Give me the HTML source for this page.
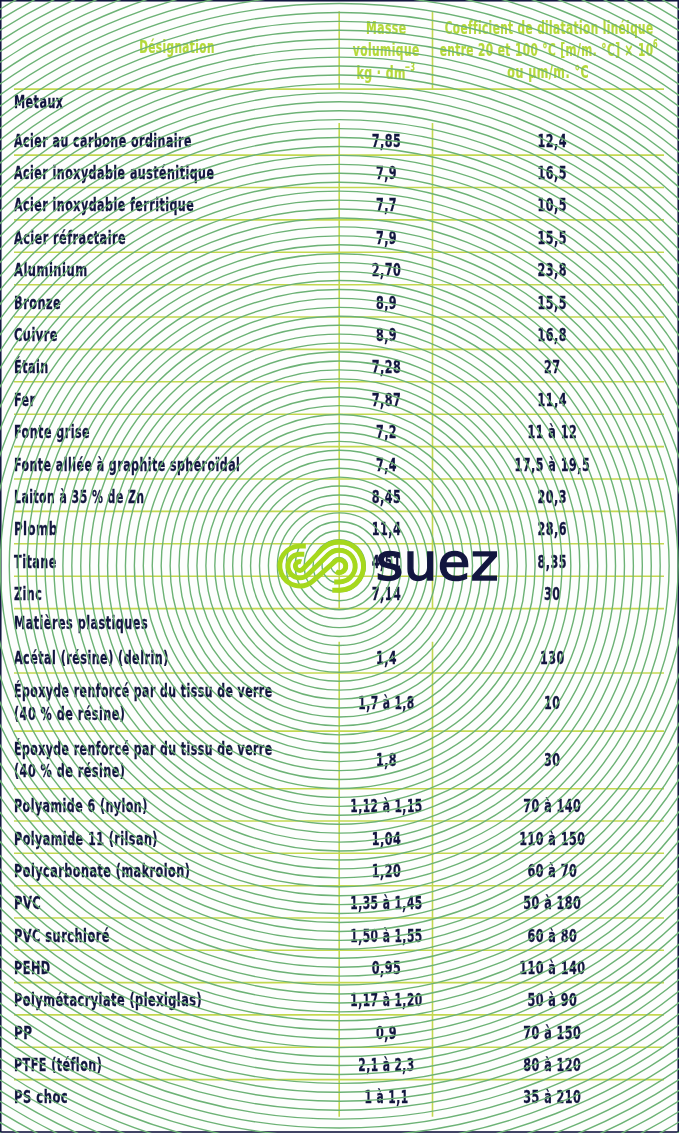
<!DOCTYPE html>
<html><head><meta charset="utf-8"><title>Masse volumique et coefficient de dilatation</title>
<style>
html,body{margin:0;padding:0;background:#fff;}
body{width:679px;height:1133px;overflow:hidden;position:relative;}
svg{position:absolute;left:0;top:0;display:block;}
text{font-family:"DejaVu Sans Condensed","DejaVu Sans","Liberation Sans",sans-serif;font-weight:bold;font-stretch:condensed;letter-spacing:0.7px;stroke-width:0.3px;}
</style></head><body>
<svg width="679" height="1133" viewBox="0 0 679 1133">
<rect x="0" y="0" width="679" height="1133" fill="#fdfefd"/>
<g stroke="#c3d84f" stroke-width="1.6" fill="none">
<line x1="14.0" y1="89.1" x2="664.0" y2="89.1"/>
<line x1="339.2" y1="11.3" x2="339.2" y2="89.1"/>
<line x1="432.5" y1="11.3" x2="432.5" y2="89.1"/>
<line x1="14.0" y1="155.1" x2="664.0" y2="155.1"/>
<line x1="14.0" y1="187.5" x2="664.0" y2="187.5"/>
<line x1="14.0" y1="219.9" x2="664.0" y2="219.9"/>
<line x1="14.0" y1="252.3" x2="664.0" y2="252.3"/>
<line x1="14.0" y1="284.7" x2="664.0" y2="284.7"/>
<line x1="14.0" y1="317.0" x2="664.0" y2="317.0"/>
<line x1="14.0" y1="349.4" x2="664.0" y2="349.4"/>
<line x1="14.0" y1="381.8" x2="664.0" y2="381.8"/>
<line x1="14.0" y1="414.2" x2="664.0" y2="414.2"/>
<line x1="14.0" y1="446.6" x2="664.0" y2="446.6"/>
<line x1="14.0" y1="479.0" x2="664.0" y2="479.0"/>
<line x1="14.0" y1="511.4" x2="664.0" y2="511.4"/>
<line x1="14.0" y1="543.8" x2="664.0" y2="543.8"/>
<line x1="14.0" y1="576.2" x2="664.0" y2="576.2"/>
<line x1="14.0" y1="608.6" x2="664.0" y2="608.6"/>
<line x1="339.2" y1="123.1" x2="339.2" y2="608.6"/>
<line x1="432.5" y1="123.1" x2="432.5" y2="608.6"/>
<line x1="14.0" y1="673.0" x2="664.0" y2="673.0"/>
<line x1="14.0" y1="731.1" x2="664.0" y2="731.1"/>
<line x1="14.0" y1="788.7" x2="664.0" y2="788.7"/>
<line x1="14.0" y1="821.0" x2="664.0" y2="821.0"/>
<line x1="14.0" y1="853.3" x2="664.0" y2="853.3"/>
<line x1="14.0" y1="885.7" x2="664.0" y2="885.7"/>
<line x1="14.0" y1="918.0" x2="664.0" y2="918.0"/>
<line x1="14.0" y1="950.3" x2="664.0" y2="950.3"/>
<line x1="14.0" y1="982.6" x2="664.0" y2="982.6"/>
<line x1="14.0" y1="1014.9" x2="664.0" y2="1014.9"/>
<line x1="14.0" y1="1047.3" x2="664.0" y2="1047.3"/>
<line x1="14.0" y1="1079.6" x2="664.0" y2="1079.6"/>
<line x1="339.2" y1="641.7" x2="339.2" y2="1116.7"/>
<line x1="432.5" y1="641.7" x2="432.5" y2="1116.7"/>
</g>
<g>
<text x="177.0" y="53.3" text-anchor="middle" font-size="18.5" fill="#b5d93a" stroke="#b5d93a" textLength="75.7" lengthAdjust="spacingAndGlyphs" style="stroke-width:0.2px">Désignation</text>
<text x="386.2" y="33.6" text-anchor="middle" font-size="18.5" fill="#b5d93a" stroke="#b5d93a" textLength="40.5" lengthAdjust="spacingAndGlyphs" style="stroke-width:0.2px">Masse</text>
<text x="386.2" y="55.7" text-anchor="middle" font-size="18.5" fill="#b5d93a" stroke="#b5d93a" textLength="66.9" lengthAdjust="spacingAndGlyphs" style="stroke-width:0.2px">volumique</text>
<text x="381.2" y="79.2" text-anchor="middle" font-size="18.5" fill="#b5d93a" stroke="#b5d93a" textLength="49.5" lengthAdjust="spacingAndGlyphs" style="stroke-width:0.2px">kg · dm</text>
<text x="410.0" y="71.0" text-anchor="middle" font-size="12" fill="#b5d93a" stroke="#b5d93a" textLength="10.5" lengthAdjust="spacingAndGlyphs" style="stroke-width:0.2px">−3</text>
<text x="549.1" y="34.0" text-anchor="middle" font-size="18.5" fill="#b5d93a" stroke="#b5d93a" textLength="208.8" lengthAdjust="spacingAndGlyphs" style="stroke-width:0.2px">Coefficient de dilatation linéique</text>
<text x="546.6" y="56.0" text-anchor="middle" font-size="18.5" fill="#b5d93a" stroke="#b5d93a" textLength="213.8" lengthAdjust="spacingAndGlyphs" style="stroke-width:0.2px">entre 20 et 100 °C [m/m. °C] × 10</text>
<text x="655.6" y="47.5" text-anchor="middle" font-size="12" fill="#b5d93a" stroke="#b5d93a" textLength="5.0" lengthAdjust="spacingAndGlyphs" style="stroke-width:0.2px">6</text>
<text x="548.2" y="77.9" text-anchor="middle" font-size="18.5" fill="#b5d93a" stroke="#b5d93a" textLength="81.7" lengthAdjust="spacingAndGlyphs" style="stroke-width:0.2px">ou µm/m. °C</text>
<text x="14.0" y="107.7" text-anchor="start" font-size="18.5" fill="#12163f" stroke="#12163f" textLength="49.5" lengthAdjust="spacingAndGlyphs">Metaux</text>
<text x="14.0" y="146.6" text-anchor="start" font-size="18.5" fill="#12163f" stroke="#12163f" textLength="178.0" lengthAdjust="spacingAndGlyphs">Acier au carbone ordinaire</text>
<text x="386.5" y="146.6" text-anchor="middle" font-size="18.5" fill="#12163f" stroke="#12163f" textLength="29.5" lengthAdjust="spacingAndGlyphs">7,85</text>
<text x="552.3" y="146.6" text-anchor="middle" font-size="18.5" fill="#12163f" stroke="#12163f" textLength="29.5" lengthAdjust="spacingAndGlyphs">12,4</text>
<text x="14.0" y="179.0" text-anchor="start" font-size="18.5" fill="#12163f" stroke="#12163f" textLength="200.4" lengthAdjust="spacingAndGlyphs">Acier inoxydable austénitique</text>
<text x="386.5" y="179.0" text-anchor="middle" font-size="18.5" fill="#12163f" stroke="#12163f" textLength="21.2" lengthAdjust="spacingAndGlyphs">7,9</text>
<text x="552.3" y="179.0" text-anchor="middle" font-size="18.5" fill="#12163f" stroke="#12163f" textLength="29.5" lengthAdjust="spacingAndGlyphs">16,5</text>
<text x="14.0" y="211.4" text-anchor="start" font-size="18.5" fill="#12163f" stroke="#12163f" textLength="180.2" lengthAdjust="spacingAndGlyphs">Acier inoxydable ferritique</text>
<text x="386.5" y="211.4" text-anchor="middle" font-size="18.5" fill="#12163f" stroke="#12163f" textLength="21.2" lengthAdjust="spacingAndGlyphs">7,7</text>
<text x="552.3" y="211.4" text-anchor="middle" font-size="18.5" fill="#12163f" stroke="#12163f" textLength="29.5" lengthAdjust="spacingAndGlyphs">10,5</text>
<text x="14.0" y="243.8" text-anchor="start" font-size="18.5" fill="#12163f" stroke="#12163f" textLength="112.1" lengthAdjust="spacingAndGlyphs">Acier réfractaire</text>
<text x="386.5" y="243.8" text-anchor="middle" font-size="18.5" fill="#12163f" stroke="#12163f" textLength="21.2" lengthAdjust="spacingAndGlyphs">7,9</text>
<text x="552.3" y="243.8" text-anchor="middle" font-size="18.5" fill="#12163f" stroke="#12163f" textLength="29.5" lengthAdjust="spacingAndGlyphs">15,5</text>
<text x="14.0" y="276.2" text-anchor="start" font-size="18.5" fill="#12163f" stroke="#12163f" textLength="73.6" lengthAdjust="spacingAndGlyphs">Aluminium</text>
<text x="386.5" y="276.2" text-anchor="middle" font-size="18.5" fill="#12163f" stroke="#12163f" textLength="29.5" lengthAdjust="spacingAndGlyphs">2,70</text>
<text x="552.3" y="276.2" text-anchor="middle" font-size="18.5" fill="#12163f" stroke="#12163f" textLength="29.5" lengthAdjust="spacingAndGlyphs">23,8</text>
<text x="14.0" y="308.5" text-anchor="start" font-size="18.5" fill="#12163f" stroke="#12163f" textLength="47.3" lengthAdjust="spacingAndGlyphs">Bronze</text>
<text x="386.5" y="308.5" text-anchor="middle" font-size="18.5" fill="#12163f" stroke="#12163f" textLength="21.2" lengthAdjust="spacingAndGlyphs">8,9</text>
<text x="552.3" y="308.5" text-anchor="middle" font-size="18.5" fill="#12163f" stroke="#12163f" textLength="29.5" lengthAdjust="spacingAndGlyphs">15,5</text>
<text x="14.0" y="340.9" text-anchor="start" font-size="18.5" fill="#12163f" stroke="#12163f" textLength="44.0" lengthAdjust="spacingAndGlyphs">Cuivre</text>
<text x="386.5" y="340.9" text-anchor="middle" font-size="18.5" fill="#12163f" stroke="#12163f" textLength="21.2" lengthAdjust="spacingAndGlyphs">8,9</text>
<text x="552.3" y="340.9" text-anchor="middle" font-size="18.5" fill="#12163f" stroke="#12163f" textLength="29.5" lengthAdjust="spacingAndGlyphs">16,8</text>
<text x="14.0" y="373.3" text-anchor="start" font-size="18.5" fill="#12163f" stroke="#12163f" textLength="34.8" lengthAdjust="spacingAndGlyphs">Étain</text>
<text x="386.5" y="373.3" text-anchor="middle" font-size="18.5" fill="#12163f" stroke="#12163f" textLength="29.5" lengthAdjust="spacingAndGlyphs">7,28</text>
<text x="552.3" y="373.3" text-anchor="middle" font-size="18.5" fill="#12163f" stroke="#12163f" textLength="16.5" lengthAdjust="spacingAndGlyphs">27</text>
<text x="14.0" y="405.7" text-anchor="start" font-size="18.5" fill="#12163f" stroke="#12163f" textLength="21.5" lengthAdjust="spacingAndGlyphs">Fer</text>
<text x="386.5" y="405.7" text-anchor="middle" font-size="18.5" fill="#12163f" stroke="#12163f" textLength="29.5" lengthAdjust="spacingAndGlyphs">7,87</text>
<text x="552.3" y="405.7" text-anchor="middle" font-size="18.5" fill="#12163f" stroke="#12163f" textLength="29.5" lengthAdjust="spacingAndGlyphs">11,4</text>
<text x="14.0" y="438.1" text-anchor="start" font-size="18.5" fill="#12163f" stroke="#12163f" textLength="76.1" lengthAdjust="spacingAndGlyphs">Fonte grise</text>
<text x="386.5" y="438.1" text-anchor="middle" font-size="18.5" fill="#12163f" stroke="#12163f" textLength="21.2" lengthAdjust="spacingAndGlyphs">7,2</text>
<text x="552.3" y="438.1" text-anchor="middle" font-size="18.5" fill="#12163f" stroke="#12163f" textLength="49.8" lengthAdjust="spacingAndGlyphs">11 à 12</text>
<text x="14.0" y="470.5" text-anchor="start" font-size="18.5" fill="#12163f" stroke="#12163f" textLength="226.3" lengthAdjust="spacingAndGlyphs">Fonte alliée à graphite sphéroïdal</text>
<text x="386.5" y="470.5" text-anchor="middle" font-size="18.5" fill="#12163f" stroke="#12163f" textLength="21.2" lengthAdjust="spacingAndGlyphs">7,4</text>
<text x="552.3" y="470.5" text-anchor="middle" font-size="18.5" fill="#12163f" stroke="#12163f" textLength="75.7" lengthAdjust="spacingAndGlyphs">17,5 à 19,5</text>
<text x="14.0" y="502.9" text-anchor="start" font-size="18.5" fill="#12163f" stroke="#12163f" textLength="130.6" lengthAdjust="spacingAndGlyphs">Laiton à 35 % de Zn</text>
<text x="386.5" y="502.9" text-anchor="middle" font-size="18.5" fill="#12163f" stroke="#12163f" textLength="29.5" lengthAdjust="spacingAndGlyphs">8,45</text>
<text x="552.3" y="502.9" text-anchor="middle" font-size="18.5" fill="#12163f" stroke="#12163f" textLength="29.5" lengthAdjust="spacingAndGlyphs">20,3</text>
<text x="14.0" y="535.3" text-anchor="start" font-size="18.5" fill="#12163f" stroke="#12163f" textLength="43.7" lengthAdjust="spacingAndGlyphs">Plomb</text>
<text x="386.5" y="535.3" text-anchor="middle" font-size="18.5" fill="#12163f" stroke="#12163f" textLength="29.5" lengthAdjust="spacingAndGlyphs">11,4</text>
<text x="552.3" y="535.3" text-anchor="middle" font-size="18.5" fill="#12163f" stroke="#12163f" textLength="29.5" lengthAdjust="spacingAndGlyphs">28,6</text>
<text x="14.0" y="567.7" text-anchor="start" font-size="18.5" fill="#12163f" stroke="#12163f" textLength="42.9" lengthAdjust="spacingAndGlyphs">Titane</text>
<text x="386.5" y="567.7" text-anchor="middle" font-size="18.5" fill="#12163f" stroke="#12163f" textLength="29.5" lengthAdjust="spacingAndGlyphs">4,51</text>
<text x="552.3" y="567.7" text-anchor="middle" font-size="18.5" fill="#12163f" stroke="#12163f" textLength="29.5" lengthAdjust="spacingAndGlyphs">8,35</text>
<text x="14.0" y="600.1" text-anchor="start" font-size="18.5" fill="#12163f" stroke="#12163f" textLength="28.2" lengthAdjust="spacingAndGlyphs">Zinc</text>
<text x="386.5" y="600.1" text-anchor="middle" font-size="18.5" fill="#12163f" stroke="#12163f" textLength="29.5" lengthAdjust="spacingAndGlyphs">7,14</text>
<text x="552.3" y="600.1" text-anchor="middle" font-size="18.5" fill="#12163f" stroke="#12163f" textLength="16.5" lengthAdjust="spacingAndGlyphs">30</text>
<text x="14.0" y="629.3" text-anchor="start" font-size="18.5" fill="#12163f" stroke="#12163f" textLength="134.1" lengthAdjust="spacingAndGlyphs">Matières plastiques</text>
<text x="14.0" y="664.4" text-anchor="start" font-size="18.5" fill="#12163f" stroke="#12163f" textLength="154.7" lengthAdjust="spacingAndGlyphs">Acétal (résine) (delrin)</text>
<text x="386.5" y="664.4" text-anchor="middle" font-size="18.5" fill="#12163f" stroke="#12163f" textLength="21.2" lengthAdjust="spacingAndGlyphs">1,4</text>
<text x="552.3" y="664.4" text-anchor="middle" font-size="18.5" fill="#12163f" stroke="#12163f" textLength="24.8" lengthAdjust="spacingAndGlyphs">130</text>
<text x="14.0" y="696.8" text-anchor="start" font-size="18.5" fill="#12163f" stroke="#12163f" textLength="258.6" lengthAdjust="spacingAndGlyphs">Époxyde renforcé par du tissu de verre</text>
<text x="14.0" y="719.5" text-anchor="start" font-size="18.5" fill="#12163f" stroke="#12163f" textLength="111.4" lengthAdjust="spacingAndGlyphs">(40 % de résine)</text>
<text x="386.5" y="708.5" text-anchor="middle" font-size="18.5" fill="#12163f" stroke="#12163f" textLength="56.5" lengthAdjust="spacingAndGlyphs">1,7 à 1,8</text>
<text x="552.3" y="708.5" text-anchor="middle" font-size="18.5" fill="#12163f" stroke="#12163f" textLength="16.5" lengthAdjust="spacingAndGlyphs">10</text>
<text x="14.0" y="754.6" text-anchor="start" font-size="18.5" fill="#12163f" stroke="#12163f" textLength="258.6" lengthAdjust="spacingAndGlyphs">Époxyde renforcé par du tissu de verre</text>
<text x="14.0" y="777.4" text-anchor="start" font-size="18.5" fill="#12163f" stroke="#12163f" textLength="111.4" lengthAdjust="spacingAndGlyphs">(40 % de résine)</text>
<text x="386.5" y="766.4" text-anchor="middle" font-size="18.5" fill="#12163f" stroke="#12163f" textLength="21.2" lengthAdjust="spacingAndGlyphs">1,8</text>
<text x="552.3" y="766.4" text-anchor="middle" font-size="18.5" fill="#12163f" stroke="#12163f" textLength="16.5" lengthAdjust="spacingAndGlyphs">30</text>
<text x="14.0" y="812.4" text-anchor="start" font-size="18.5" fill="#12163f" stroke="#12163f" textLength="133.7" lengthAdjust="spacingAndGlyphs">Polyamide 6 (nylon)</text>
<text x="386.5" y="812.4" text-anchor="middle" font-size="18.5" fill="#12163f" stroke="#12163f" textLength="72.3" lengthAdjust="spacingAndGlyphs">1,12 à 1,15</text>
<text x="552.3" y="812.4" text-anchor="middle" font-size="18.5" fill="#12163f" stroke="#12163f" textLength="58.0" lengthAdjust="spacingAndGlyphs">70 à 140</text>
<text x="14.0" y="844.7" text-anchor="start" font-size="18.5" fill="#12163f" stroke="#12163f" textLength="143.9" lengthAdjust="spacingAndGlyphs">Polyamide 11 (rilsan)</text>
<text x="386.5" y="844.7" text-anchor="middle" font-size="18.5" fill="#12163f" stroke="#12163f" textLength="29.5" lengthAdjust="spacingAndGlyphs">1,04</text>
<text x="552.3" y="844.7" text-anchor="middle" font-size="18.5" fill="#12163f" stroke="#12163f" textLength="66.3" lengthAdjust="spacingAndGlyphs">110 à 150</text>
<text x="14.0" y="877.1" text-anchor="start" font-size="18.5" fill="#12163f" stroke="#12163f" textLength="176.4" lengthAdjust="spacingAndGlyphs">Polycarbonate (makrolon)</text>
<text x="386.5" y="877.1" text-anchor="middle" font-size="18.5" fill="#12163f" stroke="#12163f" textLength="29.5" lengthAdjust="spacingAndGlyphs">1,20</text>
<text x="552.3" y="877.1" text-anchor="middle" font-size="18.5" fill="#12163f" stroke="#12163f" textLength="49.8" lengthAdjust="spacingAndGlyphs">60 à 70</text>
<text x="14.0" y="909.4" text-anchor="start" font-size="18.5" fill="#12163f" stroke="#12163f" textLength="27.3" lengthAdjust="spacingAndGlyphs">PVC</text>
<text x="386.5" y="909.4" text-anchor="middle" font-size="18.5" fill="#12163f" stroke="#12163f" textLength="72.3" lengthAdjust="spacingAndGlyphs">1,35 à 1,45</text>
<text x="552.3" y="909.4" text-anchor="middle" font-size="18.5" fill="#12163f" stroke="#12163f" textLength="58.0" lengthAdjust="spacingAndGlyphs">50 à 180</text>
<text x="14.0" y="941.7" text-anchor="start" font-size="18.5" fill="#12163f" stroke="#12163f" textLength="96.0" lengthAdjust="spacingAndGlyphs">PVC surchloré</text>
<text x="386.5" y="941.7" text-anchor="middle" font-size="18.5" fill="#12163f" stroke="#12163f" textLength="72.3" lengthAdjust="spacingAndGlyphs">1,50 à 1,55</text>
<text x="552.3" y="941.7" text-anchor="middle" font-size="18.5" fill="#12163f" stroke="#12163f" textLength="49.8" lengthAdjust="spacingAndGlyphs">60 à 80</text>
<text x="14.0" y="974.0" text-anchor="start" font-size="18.5" fill="#12163f" stroke="#12163f" textLength="36.6" lengthAdjust="spacingAndGlyphs">PEHD</text>
<text x="386.5" y="974.0" text-anchor="middle" font-size="18.5" fill="#12163f" stroke="#12163f" textLength="29.5" lengthAdjust="spacingAndGlyphs">0,95</text>
<text x="552.3" y="974.0" text-anchor="middle" font-size="18.5" fill="#12163f" stroke="#12163f" textLength="66.3" lengthAdjust="spacingAndGlyphs">110 à 140</text>
<text x="14.0" y="1006.3" text-anchor="start" font-size="18.5" fill="#12163f" stroke="#12163f" textLength="188.1" lengthAdjust="spacingAndGlyphs">Polymétacrylate (plexiglas)</text>
<text x="386.5" y="1006.3" text-anchor="middle" font-size="18.5" fill="#12163f" stroke="#12163f" textLength="72.3" lengthAdjust="spacingAndGlyphs">1,17 à 1,20</text>
<text x="552.3" y="1006.3" text-anchor="middle" font-size="18.5" fill="#12163f" stroke="#12163f" textLength="49.8" lengthAdjust="spacingAndGlyphs">50 à 90</text>
<text x="14.0" y="1038.7" text-anchor="start" font-size="18.5" fill="#12163f" stroke="#12163f" textLength="18.6" lengthAdjust="spacingAndGlyphs">PP</text>
<text x="386.5" y="1038.7" text-anchor="middle" font-size="18.5" fill="#12163f" stroke="#12163f" textLength="21.2" lengthAdjust="spacingAndGlyphs">0,9</text>
<text x="552.3" y="1038.7" text-anchor="middle" font-size="18.5" fill="#12163f" stroke="#12163f" textLength="58.0" lengthAdjust="spacingAndGlyphs">70 à 150</text>
<text x="14.0" y="1071.0" text-anchor="start" font-size="18.5" fill="#12163f" stroke="#12163f" textLength="88.2" lengthAdjust="spacingAndGlyphs">PTFE (téflon)</text>
<text x="386.5" y="1071.0" text-anchor="middle" font-size="18.5" fill="#12163f" stroke="#12163f" textLength="56.5" lengthAdjust="spacingAndGlyphs">2,1 à 2,3</text>
<text x="552.3" y="1071.0" text-anchor="middle" font-size="18.5" fill="#12163f" stroke="#12163f" textLength="58.0" lengthAdjust="spacingAndGlyphs">80 à 120</text>
<text x="14.0" y="1103.3" text-anchor="start" font-size="18.5" fill="#12163f" stroke="#12163f" textLength="54.2" lengthAdjust="spacingAndGlyphs">PS choc</text>
<text x="386.5" y="1103.3" text-anchor="middle" font-size="18.5" fill="#12163f" stroke="#12163f" textLength="44.1" lengthAdjust="spacingAndGlyphs">1 à 1,1</text>
<text x="552.3" y="1103.3" text-anchor="middle" font-size="18.5" fill="#12163f" stroke="#12163f" textLength="58.0" lengthAdjust="spacingAndGlyphs">35 à 210</text>
</g>
<rect x="0.75" y="0.75" width="677.5" height="1131.25" fill="none" stroke="#12163f" stroke-width="1.6"/>
<g stroke="#6cb275" stroke-width="1.4" fill="none">
<circle cx="339.2" cy="565.77" r="8.21"/>
<circle cx="339.2" cy="565.77" r="17.15"/>
<circle cx="339.2" cy="565.77" r="26.09"/>
<circle cx="339.2" cy="565.77" r="35.02"/>
<circle cx="339.2" cy="565.77" r="43.96"/>
<circle cx="339.2" cy="565.77" r="52.89"/>
<circle cx="339.2" cy="565.77" r="61.83"/>
<circle cx="339.2" cy="565.77" r="70.77"/>
<circle cx="339.2" cy="565.77" r="79.70"/>
<circle cx="339.2" cy="565.77" r="88.64"/>
<circle cx="339.2" cy="565.77" r="97.58"/>
<circle cx="339.2" cy="565.77" r="106.51"/>
<circle cx="339.2" cy="565.77" r="115.45"/>
<circle cx="339.2" cy="565.77" r="124.39"/>
<circle cx="339.2" cy="565.77" r="133.32"/>
<circle cx="339.2" cy="565.77" r="142.26"/>
<circle cx="339.2" cy="565.77" r="151.20"/>
<circle cx="339.2" cy="565.77" r="160.13"/>
<circle cx="339.2" cy="565.77" r="169.07"/>
<circle cx="339.2" cy="565.77" r="178.01"/>
<circle cx="339.2" cy="565.77" r="186.94"/>
<circle cx="339.2" cy="565.77" r="195.88"/>
<circle cx="339.2" cy="565.77" r="204.82"/>
<circle cx="339.2" cy="565.77" r="213.75"/>
<circle cx="339.2" cy="565.77" r="222.69"/>
<circle cx="339.2" cy="565.77" r="231.63"/>
<circle cx="339.2" cy="565.77" r="240.56"/>
<circle cx="339.2" cy="565.77" r="249.50"/>
<circle cx="339.2" cy="565.77" r="258.44"/>
<circle cx="339.2" cy="565.77" r="267.37"/>
<circle cx="339.2" cy="565.77" r="276.31"/>
<circle cx="339.2" cy="565.77" r="285.25"/>
<circle cx="339.2" cy="565.77" r="294.18"/>
<circle cx="339.2" cy="565.77" r="303.12"/>
<circle cx="339.2" cy="565.77" r="312.06"/>
<circle cx="339.2" cy="565.77" r="320.99"/>
<circle cx="339.2" cy="565.77" r="329.93"/>
<circle cx="339.2" cy="565.77" r="338.87"/>
<circle cx="339.2" cy="565.77" r="347.80"/>
<circle cx="339.2" cy="565.77" r="356.74"/>
<circle cx="339.2" cy="565.77" r="365.68"/>
<circle cx="339.2" cy="565.77" r="374.61"/>
<circle cx="339.2" cy="565.77" r="383.55"/>
<circle cx="339.2" cy="565.77" r="392.49"/>
<circle cx="339.2" cy="565.77" r="401.42"/>
<circle cx="339.2" cy="565.77" r="410.36"/>
<circle cx="339.2" cy="565.77" r="419.30"/>
<circle cx="339.2" cy="565.77" r="428.23"/>
<circle cx="339.2" cy="565.77" r="437.17"/>
<circle cx="339.2" cy="565.77" r="446.11"/>
<circle cx="339.2" cy="565.77" r="455.04"/>
<circle cx="339.2" cy="565.77" r="463.98"/>
<circle cx="339.2" cy="565.77" r="472.92"/>
<circle cx="339.2" cy="565.77" r="481.85"/>
<circle cx="339.2" cy="565.77" r="490.79"/>
<circle cx="339.2" cy="565.77" r="499.73"/>
<circle cx="339.2" cy="565.77" r="508.66"/>
<circle cx="339.2" cy="565.77" r="517.60"/>
<circle cx="339.2" cy="565.77" r="526.53"/>
<circle cx="339.2" cy="565.77" r="535.47"/>
<circle cx="339.2" cy="565.77" r="544.41"/>
<circle cx="339.2" cy="565.77" r="553.34"/>
<circle cx="339.2" cy="565.77" r="562.28"/>
<circle cx="339.2" cy="565.77" r="571.22"/>
<circle cx="339.2" cy="565.77" r="580.15"/>
<circle cx="339.2" cy="565.77" r="589.09"/>
<circle cx="339.2" cy="565.77" r="598.03"/>
<circle cx="339.2" cy="565.77" r="606.96"/>
<circle cx="339.2" cy="565.77" r="615.90"/>
<circle cx="339.2" cy="565.77" r="624.84"/>
<circle cx="339.2" cy="565.77" r="633.77"/>
<circle cx="339.2" cy="565.77" r="642.71"/>
<circle cx="339.2" cy="565.77" r="651.65"/>
<circle cx="339.2" cy="565.77" r="660.58"/>
<circle cx="339.2" cy="565.77" r="669.52"/>
<circle cx="339.2" cy="565.77" r="678.46"/>
<circle cx="339.2" cy="565.77" r="687.39"/>
<circle cx="339.2" cy="565.77" r="696.33"/>
<circle cx="339.2" cy="565.77" r="705.27"/>
<circle cx="339.2" cy="565.77" r="714.20"/>
</g>
<g stroke="#a6d81c" stroke-width="4.9" fill="none" stroke-linecap="butt">
<path d="M301.30 561.87 A4.40 4.40 0 0 0 295.51 567.00 A4.40 4.40 0 0 0 302.97 569.05 L321.91 549.41 A24.10 24.10 0 0 1 361.47 556.65 A24.10 24.10 0 0 1 339.30 590.20 H332.30"/>
<path d="M304.30 554.20 H299.80 A11.80 11.80 0 0 0 288.88 570.46 A11.80 11.80 0 0 0 308.06 574.43 L328.20 554.78 A15.85 15.85 0 0 1 353.97 560.11 A15.85 15.85 0 0 1 339.30 581.95 H334.20"/>
<path d="M305.80 546.10 H299.80 A19.90 19.90 0 0 0 281.21 573.09 A19.90 19.90 0 0 0 313.05 580.85 L335.04 561.32 A6.40 6.40 0 0 1 345.68 565.59 A6.40 6.40 0 0 1 335.85 571.49"/>
</g>
<text x="375.6" y="580.0" font-size="52.0" fill="#12163f" stroke="#12163f" textLength="123.0" lengthAdjust="spacingAndGlyphs" style="font-family:'DejaVu Sans','Liberation Sans',sans-serif;font-weight:normal;font-stretch:normal;letter-spacing:0;stroke-width:1.4px">suez</text>
</svg>
</body></html>
